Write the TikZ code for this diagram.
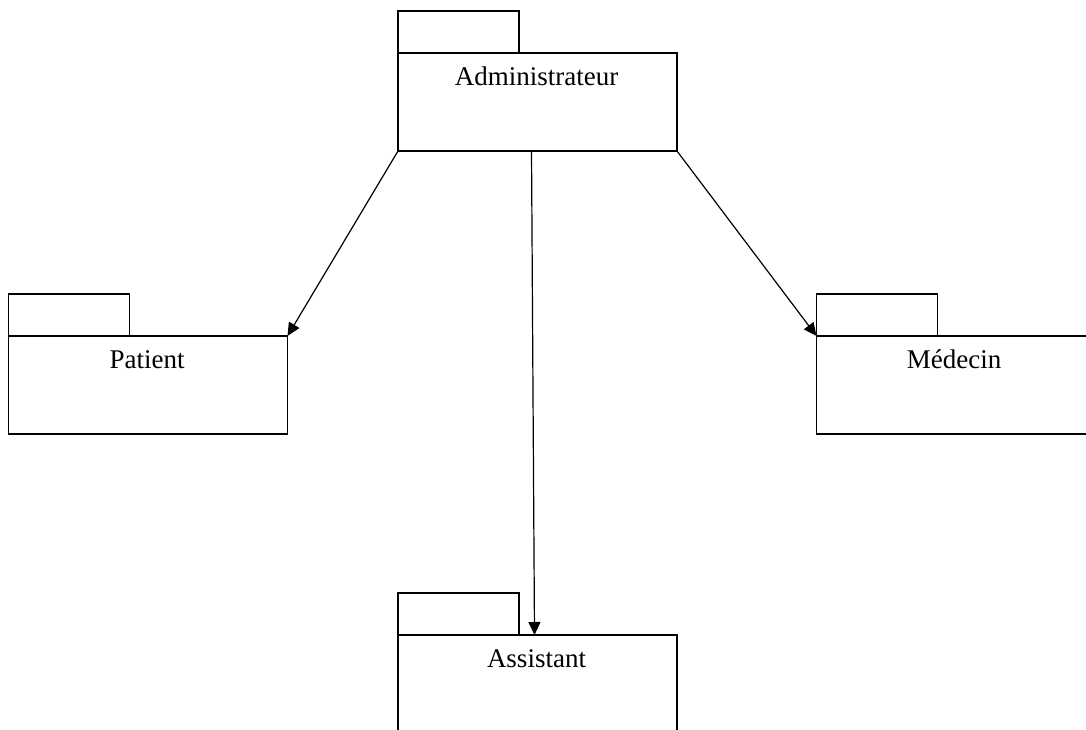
\documentclass[tikz,border=0pt]{standalone}
\usepackage{fontspec}
\setmainfont{Liberation Serif}
\usetikzlibrary{arrows.meta,calc}
\begin{document}
\begin{tikzpicture}[x=1pt,y=-1pt,
  line width=1.4pt,
  pkgbody/.style={draw, rectangle, inner sep=0pt, outer sep=0pt,
    minimum width=279pt, minimum height=98pt},
  pkgtab/.style={draw, rectangle, inner sep=0pt, outer sep=0pt,
    minimum width=121pt, minimum height=42pt, anchor=south west},
  pkgname/.style={anchor=base, inner sep=0pt, font=\fontsize{27}{30}\selectfont},
  dep/.style={-{Triangle[length=13pt,width=12pt]}, line width=1.2pt}]
\useasboundingbox (0,0) rectangle (1086,730);
\clip (0,0) rectangle (1086,730);
% package bodies
\node[pkgbody] (admin) at (537.5,102) {};
\node[pkgbody] (patient) at (148,385) {};
\node[pkgbody] (medecin) at (956,385) {};
\node[pkgbody] (assist) at (537.5,684) {};
% tabs
\node[pkgtab] (adminTab) at (admin.north west) {};
\node[pkgtab] (patientTab) at (patient.north west) {};
\node[pkgtab] (medecinTab) at (medecin.north west) {};
\node[pkgtab] (assistTab) at (assist.north west) {};
% names
\node[pkgname] (adminName) at ($(admin.north)+(-1,33)$) {Administrateur};
\node[pkgname] (patientName) at ($(patient.north)+(-1,32)$) {Patient};
\node[pkgname] (medecinName) at ($(medecin.north)+(-2,32)$) {Médecin};
\node[pkgname] (assistName) at ($(assist.north)+(-1,32)$) {Assistant};
% dependencies
\draw[dep] (admin.south west) -- (patient.north east);
\draw[dep] (admin.south east) -- (medecin.north west);
\draw[dep] ($(admin.south)+(-6,0)$) -- ($(assist.north)+(-3,0)$);
\end{tikzpicture}
\end{document}
